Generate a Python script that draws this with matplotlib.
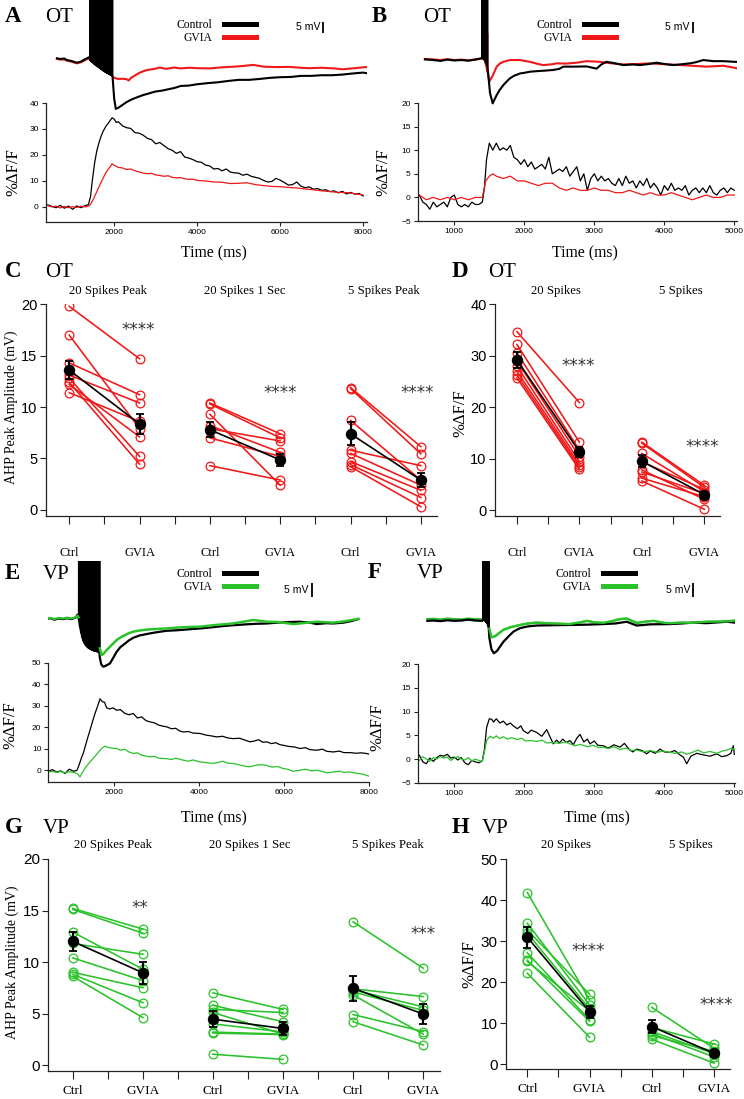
import numpy as np
import matplotlib
matplotlib.use('Agg')
import matplotlib.pyplot as plt
from matplotlib.lines import Line2D
from matplotlib.transforms import blended_transform_factory

# ----------------------------------------------------------------- data
# ---- Panel A (OT, 20 spikes): membrane voltage (mV rel. baseline)
a_v_pre_t = [620, 700, 800, 860, 950, 1100, 1200, 1260, 1330, 1400]
a_v_ctrl_pre = [0.3, 0.0, 0.2, -0.5, -0.8, -1.7, -1.2, -0.5, 0.2, 0.8]
a_v_gvia_pre = [0.0, -0.3, -0.2, -0.8, -1.1, -2.0, -1.5, -0.9, -0.2, 0.3]
a_spk_t = [1420, 1448, 1476, 1504, 1532, 1560, 1588, 1616, 1644, 1672,
           1700, 1728, 1756, 1784, 1812, 1840, 1868, 1896, 1924, 1950]
a_spk_trough = [-0.5, -1.0, -1.4, -1.9, -2.4, -2.8, -3.2, -3.5, -3.9, -4.3,
                -4.7, -5.1, -5.5, -5.8, -6.1, -6.4, -6.7, -7.0, -7.2, -7.4]
a_v_post_t = [1965, 2000, 2040, 2100, 2200, 2300, 2400, 2500, 2600, 2700, 2800,
              2900, 3000, 3150, 3300, 3450, 3600, 3800, 4000, 4250, 4500, 4750,
              5000, 5250, 5500, 5750, 6000, 6250, 6500, 6750, 7000, 7250, 7500,
              7750, 8000, 8180]
a_v_ctrl_post = [-9.0, -18.0, -22.7, -22.2, -20.9, -19.6, -18.6, -17.8, -17.1, -16.4,
                 -15.9, -15.3, -14.8, -14.4, -13.8, -13.2, -12.3, -12.1, -11.5, -11.0,
                 -10.6, -10.0, -9.5, -9.5, -9.1, -8.6, -8.3, -8.2, -7.7, -7.7, -7.4,
                 -7.4, -7.1, -6.6, -6.2, -6.8]
a_v_gvia_post_t = [1960, 2000, 2100, 2200, 2300, 2350, 2400, 2500, 2600, 2700, 2800,
                   2950, 3100, 3250, 3450, 3600, 3800, 4000, 4300, 4600, 4900, 5100,
                   5350, 5600, 5900, 6200, 6500, 6700, 7000, 7300, 7500, 7800, 8000,
                   8180]
a_v_gvia_post = [-7.7, -8.6, -9.1, -9.0, -9.2, -9.8, -8.7, -7.5, -6.4, -5.6, -5.0,
                 -4.6, -3.9, -4.5, -3.9, -4.3, -4.0, -4.2, -4.3, -3.8, -3.5, -3.2,
                 -2.7, -3.5, -3.7, -3.6, -4.0, -4.2, -4.0, -4.3, -4.7, -4.2, -3.8,
                 -3.6]
# ---- Panel A fluorescence (%dF/F)
a_f_t = [400, 500, 600, 700, 800, 900, 1000, 1100, 1200, 1300, 1380, 1430, 1480,
         1530, 1580, 1630, 1680, 1730, 1800, 1870, 1950, 2000, 2050, 2100, 2200,
         2300, 2400, 2500, 2600, 2700, 2800, 2900, 3000, 3100, 3200, 3300, 3400,
         3500, 3600, 3700, 3800, 3900, 4000, 4100, 4200, 4300, 4400, 4500, 4600,
         4700, 4800, 4900, 5000, 5100, 5200, 5300, 5400, 5500, 5600, 5700, 5800,
         5900, 6000, 6100, 6200, 6300, 6400, 6500, 6600, 6700, 6800, 6900, 7000,
         7100, 7200, 7300, 7400, 7500, 7600, 7700, 7800, 7900, 8000]
a_f_ctrl = [0.8, 0.2, -0.3, 0.6, -0.5, 0.3, -0.9, 0.4, -0.3, 0.5, 0.9, 4.0, 11.0,
            17.0, 21.5, 24.5, 27.0, 29.0, 31.0, 32.5, 34.3, 33.8, 32.5, 32.8, 31.2,
            30.5, 30.2, 28.6, 28.4, 27.6, 26.4, 25.9, 24.3, 24.8, 23.6, 22.4, 21.8,
            20.6, 21.3, 19.2, 18.8, 18.2, 17.4, 17.2, 16.1, 15.8, 14.6, 14.8, 13.9,
            14.6, 13.4, 13.1, 13.0, 12.2, 12.6, 11.8, 11.4, 11.0, 10.2, 9.6, 9.8,
            11.0, 10.3, 9.4, 8.4, 8.6, 9.6, 8.0, 7.4, 7.7, 6.8, 7.1, 6.4, 6.6, 5.9,
            6.2, 5.4, 6.0, 5.0, 5.6, 4.9, 5.2, 4.2]
a_f_t2 = [400, 500, 600, 700, 800, 900, 1000, 1100, 1200, 1300, 1400, 1450, 1500,
          1550, 1600, 1650, 1700, 1750, 1800, 1850, 1900, 1950, 2000, 2100, 2200,
          2300, 2400, 2500, 2600, 2700, 2800, 2900, 3000, 3100, 3200, 3300, 3400,
          3500, 3600, 3700, 3800, 3900, 4000, 4200, 4400, 4600, 4800, 5000, 5200,
          5400, 5600, 5800, 6000, 6200, 6400, 6600, 6800, 7000, 7200, 7400, 7600,
          7800, 8000]
a_f_gvia = [0.5, 0.0, 0.3, -0.4, 0.2, -0.3, 0.1, -0.2, 0.3, 0.0, 0.4, 1.5, 3.0,
            4.8, 6.5, 8.3, 10.0, 11.6, 13.2, 14.4, 15.4, 16.6, 16.0, 15.2, 15.0,
            14.4, 14.6, 13.9, 13.5, 13.0, 12.8, 12.9, 12.3, 12.1, 11.8, 12.0, 11.4,
            11.2, 11.3, 10.8, 10.6, 10.7, 10.2, 10.0, 9.6, 9.5, 9.0, 9.1, 9.3, 8.6,
            8.2, 7.9, 7.8, 7.5, 7.3, 6.9, 6.6, 6.2, 5.9, 5.6, 5.5, 5.1, 4.6]

# ---- Panel B (OT, 5 spikes): voltage
b_v_pre_t = [580, 700, 800, 900, 1000, 1100, 1200, 1300, 1380]
b_v_ctrl_pre = [0.3, 0.0, -0.4, 0.2, -0.2, 0.0, -0.3, 0.2, 0.8]
b_v_gvia_pre = [0.5, 0.3, 0.0, 0.4, 0.0, 0.2, -0.1, 0.3, 0.5]
b_spk_t = [1400, 1417, 1434, 1451, 1468]
b_spk_trough = [1.0, 0.5, 0.0, -1.0, -2.0]
b_spk_trough_gvia = [1.0, 0.5, 0.0, -2.0, -5.0]
b_v_ctrl_post_t = [1480, 1510, 1548, 1605, 1650, 1700, 1750, 1795, 1850, 1938,
                   2000, 2080, 2200, 2300, 2414, 2500, 2557, 2700, 2890, 3033,
                   3100, 3176, 3300, 3414, 3550, 3652, 3780, 3890, 4000, 4128,
                   4250, 4366, 4450, 4557, 4700, 4843, 5000, 5129]
b_v_ctrl_post = [-5.0, -15.0, -19.7, -15.9, -13.5, -11.4, -9.7, -8.3, -7.2, -6.1,
                 -5.8, -5.3, -5.0, -4.8, -4.5, -4.0, -3.0, -3.0, -2.9, -3.9, -2.0,
                 -0.8, -1.5, -2.3, -2.0, -2.3, -1.8, -1.2, -1.8, -2.3, -1.9, -1.5,
                 -1.0, 0.0, -0.5, -0.5, -0.8, -1.0]
b_v_gvia_post_t = [1480, 1500, 1550, 1605, 1650, 1700, 1795, 1938, 2080, 2200,
                   2270, 2400, 2460, 2600, 2750, 2890, 3080, 3250, 3414, 3600,
                   3800, 4000, 4200, 4400, 4600, 4843, 5000, 5129]
b_v_gvia_post = [-6.0, -9.8, -7.0, -3.0, -1.6, -0.8, 0.0, 0.0, -0.8, -1.8, -2.3,
                 -1.9, -1.5, -1.6, -1.2, -0.5, -0.8, -1.5, -2.0, -1.8, -1.5, -1.9,
                 -2.2, -2.6, -3.0, -2.6, -3.5, -4.5]
# ---- Panel B fluorescence
b_f_t = [500, 550, 600, 650, 700, 750, 800, 850, 900, 950, 1000, 1050, 1100, 1150,
         1200, 1250, 1300, 1350, 1400, 1430, 1460, 1500, 1550, 1600, 1650, 1700,
         1750, 1800, 1850, 1900, 1950, 2000, 2050, 2100, 2150, 2200, 2250, 2300,
         2350, 2400, 2450, 2500, 2550, 2600, 2650, 2700, 2750, 2800, 2850, 2900,
         2950, 3000, 3050, 3100, 3150, 3200, 3250, 3300, 3350, 3400, 3450, 3500,
         3550, 3600, 3650, 3700, 3750, 3800, 3850, 3900, 3950, 4000, 4050, 4100,
         4150, 4200, 4250, 4300, 4350, 4400, 4450, 4500, 4550, 4600, 4650, 4700,
         4750, 4800, 4850, 4900, 4950, 5000]
b_f_ctrl = [0.5, -1.0, -1.5, -2.5, -1.0, -2.0, -1.5, -1.0, -2.0, 0.0, 0.5, -1.5,
            -2.0, -1.5, -2.0, -1.0, -1.5, -1.5, -1.0, 2.0, 8.0, 11.5, 10.0, 11.5,
            10.0, 10.5, 10.0, 11.0, 8.5, 8.0, 7.0, 8.0, 6.5, 7.5, 6.0, 6.5, 7.0,
            6.0, 8.5, 5.0, 5.5, 6.0, 5.5, 6.5, 4.5, 5.5, 6.5, 3.5, 5.0, 1.5, 4.0,
            5.0, 3.5, 4.5, 3.5, 4.0, 3.0, 2.5, 4.0, 2.5, 4.5, 3.0, 3.5, 2.0, 3.5,
            2.5, 4.0, 2.0, 3.0, 2.0, 0.5, 2.5, 1.5, 3.0, 1.5, 2.0, 1.5, 2.5, 0.5,
            1.5, 2.0, 1.0, 2.0, 1.0, 2.5, 1.0, 0.5, 1.5, 2.0, 1.0, 2.0, 1.5]
b_f_t2 = [500, 600, 700, 800, 900, 1000, 1100, 1200, 1300, 1400, 1450, 1500, 1550,
          1600, 1700, 1800, 1900, 2000, 2100, 2200, 2300, 2400, 2500, 2600, 2700,
          2800, 2900, 3000, 3100, 3200, 3300, 3400, 3500, 3600, 3700, 3800, 3900,
          4000, 4100, 4200, 4300, 4400, 4500, 4600, 4700, 4800, 4900, 5000]
b_f_gvia = [0.5, -0.5, 0.0, -0.5, 0.0, -0.5, 0.0, -0.5, 0.0, 0.0, 3.5, 4.5, 5.0,
            4.5, 4.0, 4.5, 3.5, 3.5, 3.0, 2.5, 3.0, 3.0, 2.0, 1.5, 2.0, 1.5, 1.5,
            2.0, 1.5, 1.5, 1.0, 1.0, 1.5, 1.0, 0.5, 1.0, 0.5, 0.5, 1.0, 0.5, 0.0,
            -0.5, 0.0, 0.5, 0.0, 0.0, 0.5, 0.5]

# ---- Panel C (OT, AHP peak amplitude, mV)
c_pk_ctrl = [19.8, 17.0, 14.3, 13.1, 12.8, 12.4, 12.2, 11.4]
c_pk_gvia = [14.7, 7.9, 11.2, 10.4, 5.2, 4.45, 7.1, 8.6]
c_pk_mean, c_pk_sem = [13.6, 8.35], [0.9, 1.0]
c_1s_ctrl = [10.4, 10.3, 9.3, 8.2, 7.9, 7.0, 4.3]
c_1s_gvia = [7.4, 7.0, 2.4, 5.6, 6.7, 5.2, 2.9]
c_1s_mean, c_1s_sem = [7.8, 4.85], [0.7, 0.6]
c_5_ctrl = [11.9, 11.8, 8.7, 5.8, 5.5, 4.7, 4.4, 4.2]
c_5_gvia = [6.15, 5.45, 2.9, 4.3, 2.4, 1.9, 1.2, 0.3]
c_5_mean, c_5_sem = [7.4, 2.9], [1.1, 0.7]
# ---- Panel D (OT, %dF/F)
d_20_ctrl = [34.7, 32.2, 30.6, 29.0, 28.0, 27.0, 26.3, 25.7]
d_20_gvia = [20.9, 13.2, 11.7, 10.4, 9.4, 8.8, 8.3, 7.9]
d_20_mean, d_20_sem = [29.2, 11.35], [1.5, 1.0]
d_5_ctrl = [13.2, 13.0, 11.0, 9.4, 7.8, 7.4, 6.2, 5.65]
d_5_gvia = [4.8, 4.4, 3.6, 4.0, 2.1, 3.2, 2.6, 0.15]
d_5_mean, d_5_sem = [9.5, 3.0], [1.2, 0.5]

# ---- Panel E (VP, 20 spikes): voltage
e_v_pre_t = [380, 500, 600, 700, 800, 900, 1000, 1100, 1140, 1170]
e_v_ctrl_pre = [0.0, 0.3, -0.2, 0.2, 0.0, 0.3, 0.0, 0.5, 1.5, 0.5]
e_v_gvia_pre = [0.3, 0.4, 0.0, 0.4, 0.2, 0.5, 0.2, 0.6, 1.2, 0.6]
e_spk_t = [1177, 1202, 1227, 1252, 1277, 1302, 1327, 1352, 1377, 1402,
           1427, 1452, 1477, 1502, 1527, 1552, 1577, 1602, 1627, 1652]
e_spk_trough = [-0.3, -2.6, -4.5, -6.0, -7.2, -8.0, -8.6, -9.1, -9.5, -9.8,
                -10.0, -10.2, -10.4, -10.6, -10.7, -10.8, -10.9, -11.0, -11.1, -11.2]
e_v_ctrl_post_t = [1665, 1700, 1748, 1800, 1905, 2000, 2061, 2150, 2256, 2350, 2452,
                   2600, 2844, 3000, 3236, 3500, 3750, 4020, 4300, 4550, 4800, 5100,
                   5350, 5590, 5850, 6100, 6370, 6600, 6760, 7000, 7150, 7400, 7600,
                   7740]
e_v_ctrl_post = [-13.0, -15.5, -16.3, -16.0, -15.2, -12.8, -11.2, -9.6, -8.4, -7.3,
                 -6.4, -5.6, -4.9, -4.5, -4.0, -3.8, -3.5, -3.2, -2.8, -2.4, -2.1,
                 -1.8, -1.6, -1.5, -1.2, -1.0, -0.9, -1.2, -1.7, -1.4, -1.5, -1.2,
                 -0.6, 0.0]
e_v_gvia_post_t = [1665, 1710, 1760, 1826, 1950, 2061, 2150, 2256, 2350, 2452, 2600,
                   2844, 3236, 3500, 3750, 4020, 4400, 4800, 5000, 5275, 5590, 5850,
                   6215, 6500, 6760, 7150, 7400, 7740]
e_v_gvia_post = [-10.0, -12.3, -11.8, -10.6, -8.8, -7.2, -6.3, -5.5, -4.8, -4.3,
                 -3.9, -3.5, -3.2, -2.9, -2.7, -2.6, -2.0, -1.5, -1.0, -0.3, -0.9,
                 -1.0, -1.7, -1.3, -0.9, -1.2, -0.8, 0.1]
# ---- Panel E fluorescence
e_f_t = [460, 550, 650, 750, 850, 950, 1050, 1130, 1180, 1230, 1280, 1330, 1380,
         1436, 1500, 1554, 1610, 1671, 1720, 1780, 1827, 1900, 1980, 2061, 2150,
         2250, 2350, 2452, 2550, 2650, 2750, 2844, 2950, 3050, 3150, 3236, 3350,
         3450, 3550, 3627, 3750, 3850, 4020, 4150, 4280, 4411, 4550, 4680, 4803,
         4950, 5050, 5195, 5300, 5400, 5500, 5587, 5700, 5800, 5900, 5979, 6100,
         6250, 6370, 6500, 6600, 6762, 6900, 7000, 7153, 7300, 7400, 7545, 7700,
         7800, 7937, 8000]
e_f_ctrl = [-0.5, 0.3, -0.8, -0.3, -1.5, 0.5, -0.5, 0.0, 2.5, 5.5, 8.0, 11.5, 15.0,
            18.6, 23.0, 26.4, 29.5, 33.2, 32.0, 31.5, 29.0, 28.5, 29.0, 27.9, 28.2,
            26.5, 25.8, 26.4, 24.3, 24.8, 23.1, 22.5, 22.0, 21.0, 20.5, 20.2, 19.3,
            19.5, 18.2, 17.8, 18.0, 17.3, 17.1, 16.4, 16.0, 15.5, 15.8, 15.0, 14.7,
            14.9, 14.2, 13.2, 13.6, 14.2, 13.0, 13.2, 12.4, 12.8, 11.9, 11.6, 11.1,
            10.8, 10.1, 10.5, 9.6, 9.3, 9.8, 8.8, 8.5, 8.9, 8.2, 8.2, 7.9, 8.1, 7.8,
            7.4]
e_f_t2 = [460, 550, 650, 750, 850, 950, 1050, 1130, 1200, 1260, 1320, 1380, 1436,
          1500, 1554, 1610, 1671, 1730, 1788, 1850, 1950, 2061, 2150, 2250, 2350,
          2452, 2550, 2650, 2750, 2844, 2950, 3050, 3236, 3350, 3450, 3627, 3750,
          3850, 4020, 4150, 4300, 4411, 4550, 4680, 4803, 4950, 5100, 5195, 5300,
          5450, 5587, 5700, 5850, 5979, 6100, 6200, 6370, 6500, 6650, 6762, 6900,
          7000, 7153, 7300, 7400, 7545, 7700, 7850, 8000]
e_f_gvia = [-0.8, -0.5, -1.0, -0.6, -1.2, -0.7, -1.0, -1.5, -3.1, -1.0, 1.0, 2.5,
            3.9, 5.3, 6.5, 7.8, 9.3, 10.5, 11.2, 10.7, 10.3, 10.1, 9.3, 9.8, 8.5,
            7.8, 8.1, 7.0, 6.6, 6.2, 6.5, 5.6, 5.4, 5.0, 5.6, 4.7, 4.2, 4.8, 3.9,
            3.6, 3.2, 3.4, 4.2, 3.3, 3.1, 2.5, 1.8, 1.6, 2.2, 2.6, 2.3, 1.5, 1.7,
            0.8, 0.4, -0.5, 0.0, 0.5, -0.3, 0.0, -0.5, -1.2, -0.8, -0.4, -1.0, -0.8,
            -1.4, -1.8, -2.8]

# ---- Panel F (VP, 5 spikes): voltage
f_v_pre_t = [615, 700, 800, 900, 1000, 1100, 1200, 1300, 1400]
f_v_ctrl_pre = [-0.3, -0.2, -0.4, -0.1, -0.3, -0.2, 0.1, -0.2, -0.3]
f_v_gvia_pre = [0.3, 0.4, 0.2, 0.5, 0.3, 0.2, 0.5, 0.3, 0.2]
f_spk_t = [1414, 1432, 1450, 1468, 1486]
f_spk_trough = [0.5, 0.0, -0.5, -1.0, -2.0]
f_v_ctrl_post_t = [1500, 1530, 1565, 1610, 1653, 1700, 1796, 1850, 1939, 2050, 2177,
                   2400, 2653, 2900, 3130, 3300, 3463, 3606, 3800, 4082, 4250, 4415,
                   4600, 4891, 5082]
f_v_ctrl_post = [-6.0, -10.0, -11.4, -10.6, -9.1, -7.5, -5.1, -3.9, -2.8, -2.2, -1.9,
                 -1.8, -1.7, -1.6, -1.4, -1.2, -0.6, -1.9, -1.5, -1.4, -1.2, -0.9,
                 -1.1, -0.6, -1.1]
f_v_gvia_post_t = [1500, 1530, 1580, 1640, 1700, 1800, 1939, 2050, 2177, 2400, 2653,
                   2800, 2900, 3000, 3130, 3250, 3367, 3463, 3606, 3750, 3850, 4000,
                   4082, 4250, 4400, 4600, 4891, 5082]
f_v_gvia_post = [-3.0, -5.9, -5.6, -4.5, -3.4, -2.5, -1.7, -1.2, -0.9, -1.2, -1.4,
                 -0.8, -0.3, -0.8, -1.0, -0.4, 0.3, 0.5, -1.0, -0.5, -0.3, -1.0,
                 -1.1, -0.9, -1.0, -0.6, -0.5, 0.0]
# ---- Panel F fluorescence
f_f_t = [500, 550, 600, 650, 700, 750, 800, 850, 900, 950, 1000, 1050, 1100, 1150,
         1200, 1250, 1300, 1350, 1400, 1430, 1462, 1500, 1534, 1560, 1600, 1650,
         1700, 1750, 1800, 1843, 1900, 1950, 1986, 2050, 2100, 2177, 2250, 2320,
         2370, 2415, 2460, 2500, 2550, 2600, 2653, 2700, 2750, 2796, 2850, 2900,
         2939, 3000, 3050, 3130, 3200, 3280, 3367, 3430, 3500, 3550, 3606, 3680,
         3748, 3800, 3870, 3939, 4000, 4082, 4150, 4220, 4272, 4320, 4380, 4463,
         4550, 4653, 4750, 4820, 4891, 4950, 4986, 5000]
f_f_ctrl = [0.8, -0.6, -1.0, 0.2, -0.5, 0.3, 0.8, 0.6, 1.0, 0.2, 0.4, -0.2, 0.3,
            -0.8, -1.2, -0.3, -0.6, -0.8, -0.4, 2.0, 6.7, 8.5, 8.4, 7.8, 8.5, 7.6,
            8.0, 7.2, 7.6, 7.0, 6.4, 7.0, 6.0, 5.4, 6.1, 5.6, 4.8, 6.2, 4.6, 3.2,
            4.0, 3.4, 4.2, 3.5, 3.9, 3.0, 4.4, 5.2, 3.6, 4.2, 3.2, 3.8, 2.9, 2.8,
            2.3, 3.0, 2.5, 3.3, 2.0, 1.5, 2.1, 1.8, 1.1, 1.7, 1.2, 2.1, 1.5, 1.4,
            1.8, 0.9, 0.4, -1.0, 0.6, 1.2, 0.9, 0.6, 1.1, 0.5, 0.7, 1.2, 2.8, 1.0]
f_f_t2 = [500, 550, 600, 650, 700, 750, 800, 850, 900, 950, 1000, 1050, 1100, 1150,
          1200, 1250, 1300, 1350, 1400, 1430, 1462, 1510, 1560, 1600, 1650, 1700,
          1760, 1820, 1900, 1960, 2020, 2100, 2177, 2250, 2320, 2415, 2500, 2580,
          2653, 2730, 2800, 2900, 2980, 3060, 3130, 3200, 3280, 3367, 3450, 3530,
          3606, 3700, 3800, 3900, 3980, 4082, 4160, 4250, 4320, 4400, 4480, 4560,
          4653, 4750, 4830, 4900, 4960, 5000]
f_f_gvia = [-0.3, 0.5, 0.0, -0.5, 0.3, 0.0, 0.6, 0.2, 0.4, -0.3, 0.2, 0.5, 0.0,
            -0.2, 0.3, -0.4, 0.0, -0.3, -0.5, 1.5, 3.9, 4.8, 4.4, 4.9, 4.3, 4.7,
            4.2, 4.5, 4.1, 4.4, 3.8, 3.9, 3.7, 4.0, 3.4, 3.5, 3.3, 3.6, 3.2, 2.8,
            3.1, 2.6, 2.9, 2.4, 2.5, 2.2, 2.6, 2.0, 2.3, 1.8, 1.9, 1.5, 1.8, 1.4,
            1.7, 1.4, 1.2, 1.5, 1.0, 1.4, 1.9, 1.3, 1.6, 1.2, 1.7, 1.9, 2.3, 2.0]

# ---- Panel G (VP, AHP peak amplitude, mV)
g_pk_ctrl = [15.2, 15.1, 12.9, 11.8, 10.4, 9.0, 8.8, 8.6]
g_pk_gvia = [13.2, 12.8, 9.3, 10.75, 8.2, 7.5, 6.05, 4.6]
g_pk_mean, g_pk_sem = [12.0, 8.95], [0.9, 1.05]
g_1s_ctrl = [7.0, 5.8, 5.4, 5.1, 4.0, 3.2, 3.1, 1.05]
g_1s_gvia = [5.4, 4.2, 5.1, 3.0, 3.2, 3.0, 2.95, 0.55]
g_1s_mean, g_1s_sem = [4.45, 3.55], [0.75, 0.6]
g_5_ctrl = [13.9, 7.4, 7.3, 7.1, 6.8, 4.9, 4.2]
g_5_gvia = [9.4, 6.65, 5.65, 5.3, 3.0, 3.25, 1.95]
g_5_mean, g_5_sem = [7.45, 4.95], [1.2, 1.0]
# ---- Panel H (VP, %dF/F)
h_20_ctrl = [41.9, 34.4, 32.75, 32.0, 27.2, 25.4, 25.1, 22.2]
h_20_gvia = [15.7, 14.5, 17.1, 13.5, 10.8, 10.5, 13.0, 6.6]
h_20_mean, h_20_sem = [31.0, 12.85], [2.6, 1.5]
h_5_ctrl = [13.9, 9.0, 8.0, 7.5, 7.0, 6.1]
h_5_gvia = [3.9, 4.95, 2.6, 1.8, 3.2, 0.3]
h_5_mean, h_5_sem = [9.2, 2.7], [1.6, 0.5]

cond_labels = ['Ctrl', 'GVIA']
headers_ahp = ['20 Spikes Peak', '20 Spikes 1 Sec', '5 Spikes Peak']
headers_ca = ['20 Spikes', '5 Spikes']

# ----------------------------------------------------------------- style
W, H = 744, 1099
fig = plt.figure(figsize=(W / 100, H / 100), dpi=100)
SERIF = ['Liberation Serif', 'DejaVu Serif']
SANS = ['Liberation Sans', 'DejaVu Sans']
RED = '#f01818'
GREEN = '#2ac22a'
SPINE = '#222222'


def add_ax(l, t, r, b):
    return fig.add_axes([l / W, 1 - b / H, (r - l) / W, (b - t) / H])


def ftext(x, y, s, **kw):
    fig.text(x / W, 1 - y / H, s, **kw)


def with_spikes(pre_t, pre_v, spk_t, spk_v, peak, post_t, post_v):
    t, v = list(pre_t), list(pre_v)
    for st, sv in zip(spk_t, spk_v):
        t += [st, st + 2, st + 4]
        v += [sv, peak, sv]
    return t + list(post_t), v + list(post_v)


def style_trace_axes(ax, xlim, ylim, xticks, yticks, lsize=6):
    ax.set_xlim(*xlim)
    ax.set_ylim(*ylim)
    for s in ['top', 'right']:
        ax.spines[s].set_visible(False)
    for s in ['left', 'bottom']:
        ax.spines[s].set_color(SPINE)
        ax.spines[s].set_linewidth(0.9)
    ax.spines['left'].set_bounds(ylim[0], yticks[-1])
    ax.set_xticks(xticks)
    ax.set_yticks(yticks)
    ax.tick_params(length=3, width=0.8, color=SPINE, labelsize=lsize, pad=2)
    for lab in ax.get_xticklabels() + ax.get_yticklabels():
        lab.set_fontfamily(SANS)
    ax.patch.set_alpha(0)


def voltage_axes(l, t, r, b, xlim, ylim):
    ax = add_ax(l, t, r, b)
    ax.set_xlim(*xlim)
    ax.set_ylim(*ylim)
    ax.axis('off')
    return ax


def legend_and_scale(ax, gcolor, right_px, top_px, scale_t, scale_v0, fs=8.4):
    handles = [Line2D([], [], color='k', lw=3.6, label='Control'),
               Line2D([], [], color=gcolor, lw=3.6, label='GVIA')]
    ax.legend(handles=handles, loc='upper right', markerfirst=False,
              frameon=False, bbox_to_anchor=(right_px / W, 1 - top_px / H),
              bbox_transform=fig.transFigure, borderpad=0, borderaxespad=0,
              handlelength=2.75, handletextpad=1.0, labelspacing=0.12,
              prop={'family': SERIF, 'size': fs})
    ax.plot([scale_t, scale_t], [scale_v0, scale_v0 + 5], color='k', lw=1.3,
            solid_capstyle='butt')
    ax.text(scale_t, scale_v0 + 2.5, '5 mV ', ha='right', va='center',
            fontsize=7.6, fontfamily=SANS)


def paired_panel(ax, groups, color, xlim, ylim, yticks, ntick, tsize, lsize, lpad):
    for i, (ctrl, gvia, mean, sem) in enumerate(groups):
        x0, x1 = 1 + 4 * i, 3 + 4 * i
        for a, b in zip(ctrl, gvia):
            ax.plot([x0, x1], [a, b], color=color, lw=1.15, zorder=2)
        ax.plot([x0] * len(ctrl), ctrl, 'o', mfc='none', mec=color, ms=6.3,
                mew=0.9, zorder=3)
        ax.plot([x1] * len(gvia), gvia, 'o', mfc='none', mec=color, ms=6.3,
                mew=0.9, zorder=3)
        ax.errorbar([x0, x1], mean, yerr=sem, color='k', lw=1.2, marker='o',
                    ms=7.2, capsize=2.6, capthick=1.3, elinewidth=1.6, zorder=5)
    ax.set_xlim(*xlim)
    ax.set_ylim(*ylim)
    for s in ['top', 'right']:
        ax.spines[s].set_visible(False)
    for s in ['left', 'bottom']:
        ax.spines[s].set_color(SPINE)
        ax.spines[s].set_linewidth(0.9)
    ax.spines['left'].set_bounds(ylim[0], yticks[-1])
    ax.set_yticks(yticks)
    ticks = list(range(1, ntick + 1))
    ax.set_xticks(ticks)
    ax.set_xticklabels([cond_labels[(k // 2) % 2] if k % 2 == 0 else ''
                        for k in range(ntick)], fontfamily=SERIF, fontsize=lsize)
    ax.tick_params(axis='y', length=4, width=0.8, color=SPINE, labelsize=tsize, pad=2)
    ax.tick_params(axis='x', length=6, width=0.8, color=SPINE, pad=lpad)
    for lab in ax.get_yticklabels():
        lab.set_fontfamily(SANS)
    ax.patch.set_alpha(0)


def stars(ax, x, y, s):
    ax.text(x, y, s, ha='center', va='center', fontsize=12, color='#333333',
            fontfamily=['DejaVu Sans'])


def headers(ax, xs, names, ypx):
    tr = blended_transform_factory(ax.transData, fig.transFigure)
    for x, n in zip(xs, names):
        ax.text(x, 1 - ypx / H, n, transform=tr, ha='center', va='center',
                fontsize=9.2, fontfamily=SERIF)


def panel_label(x, y, letter, name, xname):
    ftext(x, y, letter, fontsize=16.5, fontweight='bold', fontfamily=SERIF,
          ha='left', va='baseline')
    ftext(xname, y, name, fontsize=15, fontfamily=SERIF, ha='left', va='baseline')


# ----------------------------------------------------------------- Panel A
axAv = voltage_axes(45.7, 0, 367.3, 130, (350, 8100), (-32.3, 26.8))
axAv.plot(a_v_pre_t, a_v_gvia_pre, color=RED, lw=1.5, zorder=2)
axAv.plot(a_v_gvia_post_t, a_v_gvia_post, color=RED, lw=1.5, zorder=2)
t, v = with_spikes(a_v_pre_t, a_v_ctrl_pre, a_spk_t, a_spk_trough, 45,
                   a_v_post_t, a_v_ctrl_post)
axAv.plot(t, v, color='k', lw=1.5, zorder=3)
legend_and_scale(axAv, RED, 256, 19, 7032, 11.8)

axA = add_ax(45.7, 103, 367.3, 222)
axA.plot(a_f_t, a_f_ctrl, color='k', lw=0.9)
axA.plot(a_f_t2, a_f_gvia, color=RED, lw=0.9)
style_trace_axes(axA, (350, 8100), (-5.8, 40), [2000, 4000, 6000, 8000],
                 [0, 10, 20, 30, 40])

# ----------------------------------------------------------------- Panel B
axBv = voltage_axes(417.7, 0, 736.7, 130, (477, 5034), (-31.8, 27.3))
t, v = with_spikes(b_v_pre_t, b_v_gvia_pre, b_spk_t, b_spk_trough_gvia, 12,
                   b_v_gvia_post_t, b_v_gvia_post)
axBv.plot(t, v, color=RED, lw=1.5, zorder=2)
t, v = with_spikes(b_v_pre_t, b_v_ctrl_pre, b_spk_t, b_spk_trough, 45,
                   b_v_ctrl_post_t, b_v_ctrl_post)
axBv.plot(t, v, color='k', lw=1.5, zorder=3)
legend_and_scale(axBv, RED, 616, 19, 4405, 12.3)

axB = add_ax(417.7, 103, 736.7, 221)
axB.plot(b_f_t, b_f_ctrl, color='k', lw=0.9)
axB.plot(b_f_t2, b_f_gvia, color=RED, lw=0.9)
style_trace_axes(axB, (477, 5034), (-5, 20), [1000, 2000, 3000, 4000, 5000],
                 [-5, 0, 5, 10, 15, 20])

# ----------------------------------------------------------------- Panel E
axEv = voltage_axes(48.3, 560.7, 369.3, 700, (456, 8000), (-27.7, 20.0))
t, v = with_spikes(e_v_pre_t, e_v_ctrl_pre, e_spk_t, e_spk_trough, 45,
                   e_v_ctrl_post_t, e_v_ctrl_post)
axEv.plot(t, v, color='k', lw=1.6, zorder=2)
axEv.plot(e_v_pre_t, e_v_gvia_pre, color=GREEN, lw=1.6, zorder=3)
axEv.plot(e_v_gvia_post_t, e_v_gvia_post, color=GREEN, lw=1.8, zorder=3)
legend_and_scale(axEv, GREEN, 256, 568, 6645, 7.4)

axE = add_ax(48.3, 662.7, 369.3, 782.3)
axE.plot(e_f_t, e_f_ctrl, color='k', lw=0.9)
axE.plot(e_f_t2, e_f_gvia, color=GREEN, lw=0.9)
style_trace_axes(axE, (456, 8000), (-5.6, 50), [2000, 4000, 6000, 8000],
                 [0, 10, 20, 30, 40, 50])

# ----------------------------------------------------------------- Panel F
axFv = voltage_axes(417.7, 560.7, 735, 700, (477, 5010), (-27.4, 20.3))
t, v = with_spikes(f_v_pre_t, f_v_gvia_pre, f_spk_t, f_spk_trough, 4,
                   f_v_gvia_post_t, f_v_gvia_post)
axFv.plot(t, v, color=GREEN, lw=1.6, zorder=2)
t, v = with_spikes(f_v_pre_t, f_v_ctrl_pre, f_spk_t, f_spk_trough, 45,
                   f_v_ctrl_post_t, f_v_ctrl_post)
axFv.plot(t, v, color='k', lw=1.6, zorder=3)
axFv.plot(f_v_gvia_post_t, f_v_gvia_post, color=GREEN, lw=1.6, zorder=4)
legend_and_scale(axFv, GREEN, 635, 568, 4414, 7.8)

axF = add_ax(417.7, 664.3, 735, 782.7)
axF.plot(f_f_t, f_f_ctrl, color='k', lw=0.9)
axF.plot(f_f_t2, f_f_gvia, color=GREEN, lw=0.9)
style_trace_axes(axF, (477, 5010), (-5, 20), [1000, 2000, 3000, 4000, 5000],
                 [-5, 0, 5, 10, 15, 20])

# ----------------------------------------------------------------- Panel C
axC = add_ax(45.7, 304.3, 437, 516)
paired_panel(axC, [(c_pk_ctrl, c_pk_gvia, c_pk_mean, c_pk_sem),
                   (c_1s_ctrl, c_1s_gvia, c_1s_mean, c_1s_sem),
                   (c_5_ctrl, c_5_gvia, c_5_mean, c_5_sem)],
             RED, (0.33, 11.46), (-0.6, 20), [0, 5, 10, 15, 20], 11, 10.5, 9, 16)
stars(axC, 2.95, 17.5, '****')
stars(axC, 6.99, 11.4, '****')
stars(axC, 10.9, 11.4, '****')
headers(axC, [2.1, 6.0, 9.95], headers_ahp, 291)

# ----------------------------------------------------------------- Panel D
axD = add_ax(495, 304.3, 720, 516)
paired_panel(axD, [(d_20_ctrl, d_20_gvia, d_20_mean, d_20_sem),
                   (d_5_ctrl, d_5_gvia, d_5_mean, d_5_sem)],
             RED, (0.3, 7.5), (-1.15, 40), [0, 10, 20, 30, 40], 7, 10.5, 9, 16)
stars(axD, 2.96, 28.1, '****')
stars(axD, 6.94, 12.2, '****')
headers(axD, [2.25, 6.25], headers_ca, 291)

# ----------------------------------------------------------------- Panel G
axG = add_ax(48.3, 859, 440, 1070.7)
paired_panel(axG, [(g_pk_ctrl, g_pk_gvia, g_pk_mean, g_pk_sem),
                   (g_1s_ctrl, g_1s_gvia, g_1s_mean, g_1s_sem),
                   (g_5_ctrl, g_5_gvia, g_5_mean, g_5_sem)],
             GREEN, (0.3, 11.48), (-0.55, 20), [0, 5, 10, 15, 20], 11, 11, 9.5, 4)
stars(axG, 2.91, 15.2, '**')
stars(axG, 11.0, 12.7, '***')
headers(axG, [2.15, 6.05, 10.0], headers_ahp, 845)

# ----------------------------------------------------------------- Panel H
axH = add_ax(506, 859.3, 730, 1069.3)
paired_panel(axH, [(h_20_ctrl, h_20_gvia, h_20_mean, h_20_sem),
                   (h_5_ctrl, h_5_gvia, h_5_mean, h_5_sem)],
             GREEN, (0.315, 7.51), (-1.2, 50), [0, 10, 20, 30, 40, 50], 7, 11, 9.5, 4)
stars(axH, 2.94, 27.7, '****')
stars(axH, 7.07, 14.5, '****')
headers(axH, [2.25, 6.25], headers_ca, 845)

# ----------------------------------------------------------------- texts
panel_label(5, 22, 'A', 'OT', 45)
panel_label(372, 22, 'B', 'OT', 423)
panel_label(5, 277, 'C', 'OT', 45)
panel_label(452, 277, 'D', 'OT', 488)
panel_label(5, 579, 'E', 'VP', 43)
panel_label(368, 578, 'F', 'VP', 417)
panel_label(5, 833, 'G', 'VP', 43)
panel_label(452, 833, 'H', 'VP', 482)

dff = '%\u0394F/F'
for (x, y) in [(13, 172), (383, 172), (10, 725), (377, 727), (460, 413), (469, 964)]:
    ftext(x, y, dff, rotation=90, ha='center', va='center', fontsize=12,
          fontfamily=SERIF)
for (x, y) in [(11, 407), (12, 962)]:
    ftext(x, y, 'AHP Peak Amplitude (mV)', rotation=90, ha='center', va='center',
          fontsize=10, fontfamily=SERIF)
for (x, y) in [(214, 253), (585, 253), (214, 818), (597, 818)]:
    ftext(x, y, 'Time (ms)', ha='center', va='center', fontsize=11.3,
          fontfamily=SERIF)

fig.savefig('out.png', dpi=100)
